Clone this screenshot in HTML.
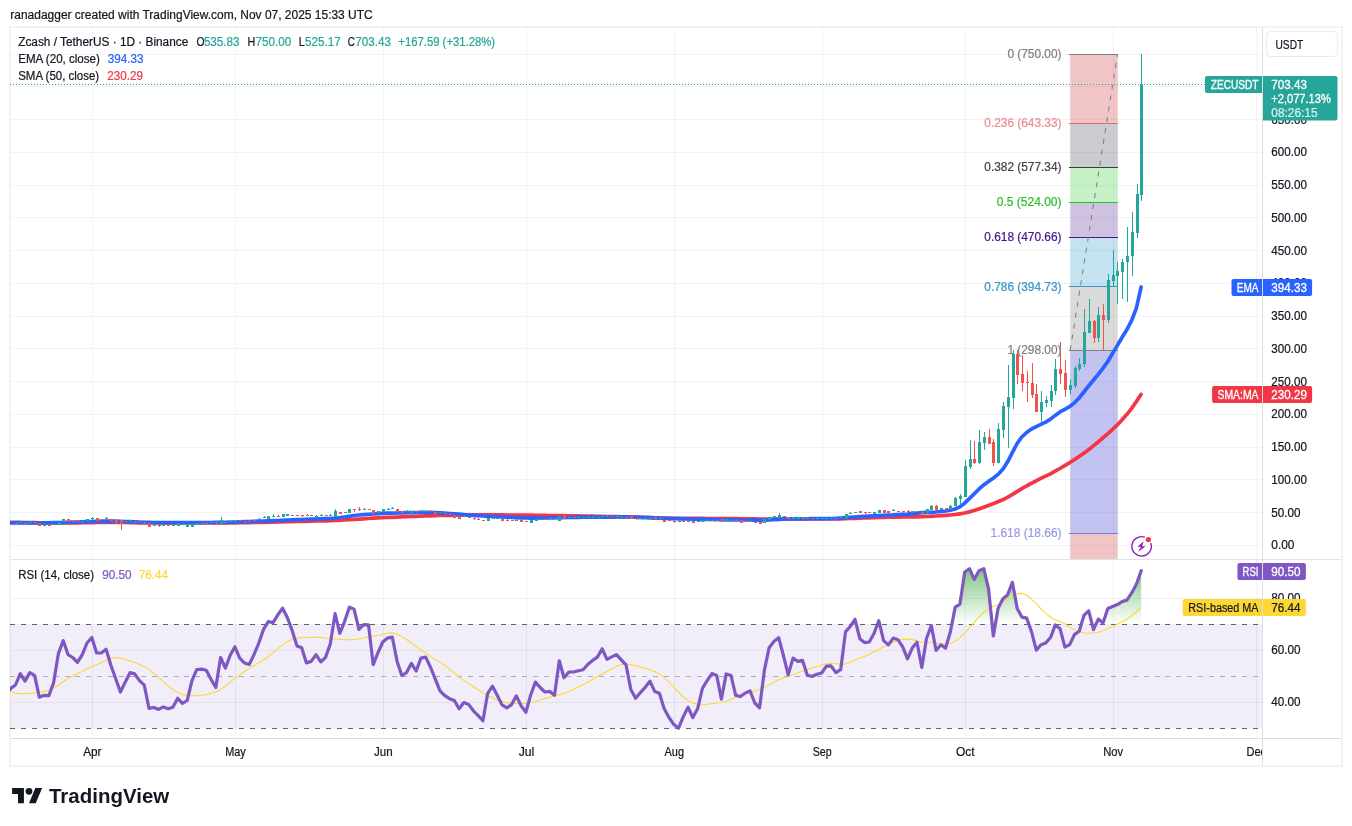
<!DOCTYPE html>
<html><head><meta charset="utf-8"><title>ZECUSDT chart</title>
<style>html,body{margin:0;padding:0;background:#fff;}body{width:1352px;height:826px;position:relative;overflow:hidden;font-family:"Liberation Sans",sans-serif;}</style>
</head><body>
<svg width="1352" height="826" viewBox="0 0 1352 826" style="position:absolute;left:0;top:0;display:block;will-change:transform;opacity:0.999" shape-rendering="auto">
<defs>
<clipPath id="cpMain"><rect x="10" y="28" width="1252" height="531"/></clipPath>
<clipPath id="cpRsi"><rect x="10" y="560" width="1252" height="178"/></clipPath>
<clipPath id="cpTime"><rect x="11" y="739" width="1251" height="26"/></clipPath>
<clipPath id="cpAbove70"><rect x="10" y="560" width="1252" height="64.3"/></clipPath>
<linearGradient id="gOB" gradientUnits="userSpaceOnUse" x1="0" y1="546" x2="0" y2="624"><stop offset="0" stop-color="#4caf50" stop-opacity="1"/><stop offset="1" stop-color="#4caf50" stop-opacity="0"/></linearGradient>
</defs>
<rect x="0" y="0" width="1352" height="826" fill="#ffffff"/>
<g stroke="#f2f3f5" stroke-width="1" shape-rendering="crispEdges">
<line x1="92.5" y1="28" x2="92.5" y2="559"/>
<line x1="92.5" y1="560" x2="92.5" y2="738"/>
<line x1="235.5" y1="28" x2="235.5" y2="559"/>
<line x1="235.5" y1="560" x2="235.5" y2="738"/>
<line x1="383.5" y1="28" x2="383.5" y2="559"/>
<line x1="383.5" y1="560" x2="383.5" y2="738"/>
<line x1="526.5" y1="28" x2="526.5" y2="559"/>
<line x1="526.5" y1="560" x2="526.5" y2="738"/>
<line x1="674.5" y1="28" x2="674.5" y2="559"/>
<line x1="674.5" y1="560" x2="674.5" y2="738"/>
<line x1="822.5" y1="28" x2="822.5" y2="559"/>
<line x1="822.5" y1="560" x2="822.5" y2="738"/>
<line x1="965.5" y1="28" x2="965.5" y2="559"/>
<line x1="965.5" y1="560" x2="965.5" y2="738"/>
<line x1="1113.5" y1="28" x2="1113.5" y2="559"/>
<line x1="1113.5" y1="560" x2="1113.5" y2="738"/>
<line x1="1256.5" y1="28" x2="1256.5" y2="559"/>
<line x1="1256.5" y1="560" x2="1256.5" y2="738"/>
<line x1="11" y1="545.5" x2="1262" y2="545.5"/>
<line x1="11" y1="512.5" x2="1262" y2="512.5"/>
<line x1="11" y1="479.5" x2="1262" y2="479.5"/>
<line x1="11" y1="447.5" x2="1262" y2="447.5"/>
<line x1="11" y1="414.5" x2="1262" y2="414.5"/>
<line x1="11" y1="381.5" x2="1262" y2="381.5"/>
<line x1="11" y1="348.5" x2="1262" y2="348.5"/>
<line x1="11" y1="316.5" x2="1262" y2="316.5"/>
<line x1="11" y1="283.5" x2="1262" y2="283.5"/>
<line x1="11" y1="250.5" x2="1262" y2="250.5"/>
<line x1="11" y1="217.5" x2="1262" y2="217.5"/>
<line x1="11" y1="185.5" x2="1262" y2="185.5"/>
<line x1="11" y1="152.5" x2="1262" y2="152.5"/>
<line x1="11" y1="119.5" x2="1262" y2="119.5"/>
<line x1="11" y1="86.5" x2="1262" y2="86.5"/>
<line x1="11" y1="54.5" x2="1262" y2="54.5"/>
</g>
<g clip-path="url(#cpRsi)">
<rect x="10" y="624" width="1252" height="104.5" fill="#7e57c2" fill-opacity="0.1"/>
<g stroke="#2a2e39" stroke-opacity="0.07" stroke-width="1" shape-rendering="crispEdges">
<line x1="11" y1="702.5" x2="1262" y2="702.5"/>
<line x1="11" y1="650.5" x2="1262" y2="650.5"/>
<line x1="11" y1="598.5" x2="1262" y2="598.5"/>
</g>
<g stroke="#2a2e39" stroke-opacity="0.015" stroke-width="1" shape-rendering="crispEdges">
<line x1="92.5" y1="624" x2="92.5" y2="728"/>
<line x1="235.5" y1="624" x2="235.5" y2="728"/>
<line x1="383.5" y1="624" x2="383.5" y2="728"/>
<line x1="526.5" y1="624" x2="526.5" y2="728"/>
<line x1="674.5" y1="624" x2="674.5" y2="728"/>
<line x1="822.5" y1="624" x2="822.5" y2="728"/>
<line x1="965.5" y1="624" x2="965.5" y2="728"/>
<line x1="1113.5" y1="624" x2="1113.5" y2="728"/>
<line x1="1256.5" y1="624" x2="1256.5" y2="728"/>
</g>
<g stroke="#787b86" stroke-width="1" shape-rendering="crispEdges">
<line x1="10" y1="624.5" x2="1262" y2="624.5" stroke-dasharray="5 5.9" stroke="#5f626d"/>
<line x1="10" y1="676.5" x2="1262" y2="676.5" stroke-dasharray="5 5.9" stroke="#a9acb5"/>
<line x1="10" y1="728.5" x2="1262" y2="728.5" stroke-dasharray="5 5.9" stroke="#5f626d"/>
</g>
<path d="M10.0,689.5 L10.7,688.5 L15.5,685.0 L20.3,673.6 L25.0,681.1 L29.8,672.6 L34.6,675.3 L39.3,697.2 L44.1,695.3 L48.9,695.6 L53.6,682.7 L58.4,653.6 L63.2,640.6 L68.0,654.6 L72.7,657.5 L77.5,662.3 L82.3,654.6 L87.0,643.0 L91.8,637.5 L96.6,653.0 L101.3,653.0 L106.1,649.2 L110.9,665.2 L115.7,678.8 L120.4,692.0 L125.2,682.3 L130.0,672.6 L134.7,673.9 L139.5,680.7 L144.3,685.2 L149.0,708.4 L153.8,707.5 L158.6,709.4 L163.3,706.9 L168.1,708.8 L172.9,707.3 L177.7,698.2 L182.4,703.4 L187.2,700.5 L192.0,680.7 L196.7,669.5 L201.5,669.1 L206.3,670.3 L211.0,679.2 L215.8,687.5 L220.6,657.5 L225.4,668.1 L230.1,655.5 L234.9,646.8 L239.7,658.1 L244.4,662.9 L249.2,664.6 L254.0,654.6 L258.8,643.0 L263.5,629.4 L268.3,621.6 L273.1,622.6 L277.8,614.9 L282.6,608.1 L287.4,617.8 L292.1,630.4 L296.9,645.9 L301.7,647.8 L306.4,662.9 L311.2,661.4 L316.0,654.6 L320.8,661.9 L325.5,657.5 L330.3,643.9 L335.1,613.5 L339.8,633.3 L344.6,621.6 L349.4,607.1 L354.1,609.1 L358.9,629.4 L363.7,624.6 L368.5,624.9 L373.2,664.6 L378.0,652.6 L382.8,642.0 L387.5,638.1 L392.3,637.1 L397.1,661.4 L401.8,675.5 L406.6,672.6 L411.4,663.3 L416.2,671.0 L420.9,658.1 L425.7,657.1 L430.5,667.2 L435.2,678.8 L440.0,690.8 L444.8,695.6 L449.5,698.7 L454.3,700.5 L459.1,708.8 L463.9,702.6 L468.6,704.4 L473.4,710.8 L478.2,715.6 L482.9,720.8 L487.7,693.3 L492.5,686.2 L497.2,695.3 L502.0,704.9 L506.8,707.8 L511.6,704.6 L516.3,695.8 L521.1,705.9 L525.9,712.3 L530.6,695.3 L535.4,682.1 L540.2,687.5 L544.9,692.0 L549.7,691.4 L554.5,695.3 L559.3,660.8 L564.0,677.8 L568.8,672.0 L573.6,672.0 L578.3,670.7 L583.1,669.7 L587.9,664.3 L592.6,660.4 L597.4,657.1 L602.2,648.8 L607.0,659.4 L611.7,656.9 L616.5,654.6 L621.3,659.8 L626.0,664.8 L630.8,689.4 L635.6,698.2 L640.3,692.7 L645.1,687.5 L649.9,681.1 L654.7,691.4 L659.4,693.3 L664.2,708.8 L669.0,717.5 L673.7,724.3 L678.5,728.2 L683.3,716.6 L688.0,707.3 L692.8,717.5 L697.6,708.8 L702.4,688.5 L707.1,680.7 L711.9,673.6 L716.7,675.5 L721.4,699.1 L726.2,673.9 L731.0,675.5 L735.7,695.3 L740.5,696.6 L745.3,692.9 L750.1,691.0 L754.8,703.0 L759.6,707.8 L764.4,670.1 L769.1,647.8 L773.9,641.6 L778.7,637.7 L783.4,655.5 L788.2,674.9 L793.0,658.1 L797.8,661.4 L802.5,660.4 L807.3,675.3 L812.1,676.5 L816.8,674.3 L821.6,673.0 L826.4,666.2 L831.1,665.8 L835.9,672.6 L840.7,669.7 L845.5,631.9 L850.2,626.5 L855.0,619.3 L859.8,638.7 L864.5,642.6 L869.3,642.0 L874.1,633.3 L878.8,620.7 L883.6,640.6 L888.4,644.9 L893.2,638.1 L897.9,639.7 L902.7,646.8 L907.5,658.8 L912.2,648.1 L917.0,642.3 L921.8,667.5 L926.5,638.5 L931.3,625.5 L936.1,650.5 L940.9,644.8 L945.6,648.1 L950.4,631.7 L955.2,607.1 L959.9,604.2 L964.7,572.0 L969.5,568.7 L974.2,579.4 L979.0,570.7 L983.8,568.7 L988.6,589.1 L993.3,635.9 L998.1,608.4 L1002.9,598.7 L1007.6,594.9 L1012.4,582.3 L1017.2,608.4 L1021.9,617.1 L1026.7,618.1 L1031.5,631.7 L1036.3,650.1 L1041.0,644.8 L1045.8,642.9 L1050.6,637.5 L1055.3,624.9 L1060.1,628.8 L1064.9,647.2 L1069.7,644.6 L1074.4,634.6 L1079.2,631.3 L1084.0,615.2 L1088.7,610.8 L1093.5,629.7 L1098.3,619.1 L1103.0,623.0 L1107.8,608.4 L1112.6,606.5 L1117.4,604.6 L1122.1,601.6 L1126.9,600.1 L1131.7,592.9 L1136.4,584.2 L1141.2,570.7 L1141.2,624.3 L10.0,624.3 Z" fill="url(#gOB)" clip-path="url(#cpAbove70)"/>
<path d="M10.0,691.4 L15.2,692.9 L20.0,693.6 L24.8,693.6 L29.5,693.2 L34.3,692.8 L39.1,692.3 L43.8,691.6 L48.6,690.3 L53.4,688.1 L58.1,685.2 L62.9,681.8 L67.7,678.7 L72.5,676.1 L77.2,673.8 L82.0,671.5 L86.8,669.0 L91.5,666.7 L96.3,664.7 L101.1,662.7 L105.8,660.4 L110.6,658.4 L115.4,657.5 L120.2,657.9 L124.9,659.3 L129.7,661.0 L134.5,662.6 L139.2,664.3 L144.0,666.4 L148.8,669.4 L153.5,673.1 L158.3,677.2 L163.1,681.5 L167.9,685.7 L172.6,689.4 L177.4,692.3 L182.2,694.3 L186.9,695.5 L191.7,695.8 L196.5,695.7 L201.2,695.2 L206.0,694.6 L210.8,693.6 L215.6,692.0 L220.3,689.4 L225.1,686.2 L229.9,682.4 L234.6,678.6 L239.4,675.0 L244.2,671.7 L248.9,668.6 L253.7,665.7 L258.5,663.0 L263.3,660.0 L268.0,656.7 L272.8,652.9 L277.6,648.9 L282.3,645.1 L287.1,641.8 L291.9,639.4 L296.6,638.1 L301.4,637.7 L306.2,637.5 L311.0,637.3 L315.7,637.2 L320.5,637.4 L325.3,638.0 L330.0,638.5 L334.8,639.0 L339.6,639.4 L344.3,639.7 L349.1,639.7 L353.9,639.4 L358.7,638.9 L363.4,638.0 L368.2,637.1 L373.0,636.2 L377.7,635.5 L382.5,634.5 L387.3,633.4 L392.0,632.9 L396.8,634.0 L401.6,636.4 L406.4,639.5 L411.1,642.8 L415.9,646.3 L420.7,649.7 L425.4,653.0 L430.2,656.1 L435.0,659.2 L439.7,662.1 L444.5,665.2 L449.3,668.8 L454.1,672.9 L458.8,677.0 L463.6,680.4 L468.4,683.2 L473.1,686.2 L477.9,689.5 L482.7,692.8 L487.4,695.5 L492.2,697.8 L497.0,699.7 L501.8,701.4 L506.5,702.6 L511.3,703.2 L516.1,703.4 L520.8,703.5 L525.6,703.4 L530.4,702.8 L535.1,701.7 L539.9,700.2 L544.7,698.6 L549.5,697.2 L554.2,695.9 L559.0,694.8 L563.8,693.4 L568.5,691.6 L573.3,689.6 L578.1,687.3 L582.8,684.9 L587.6,682.3 L592.4,679.6 L597.2,676.8 L601.9,674.2 L606.7,671.7 L611.5,669.1 L616.2,666.6 L621.0,664.6 L625.8,664.0 L630.5,664.5 L635.3,665.6 L640.1,666.9 L644.9,668.1 L649.6,669.6 L654.4,671.4 L659.2,673.9 L663.9,677.3 L668.7,681.6 L673.5,686.6 L678.2,691.8 L683.0,696.5 L687.8,700.3 L692.6,703.0 L697.3,704.4 L702.1,704.7 L706.9,704.3 L711.6,703.8 L716.4,703.3 L721.2,702.5 L725.9,701.2 L730.7,699.5 L735.5,697.6 L740.3,695.6 L745.0,693.8 L749.8,692.3 L754.6,691.1 L759.3,689.7 L764.1,687.7 L768.9,685.1 L773.6,682.5 L778.4,680.1 L783.2,678.0 L788.0,676.4 L792.7,674.8 L797.5,673.1 L802.3,671.3 L807.0,669.6 L811.8,668.2 L816.6,666.7 L821.3,665.0 L826.1,663.7 L830.9,663.3 L835.7,663.8 L840.4,664.3 L845.2,664.0 L850.0,662.4 L854.7,660.3 L859.5,658.3 L864.3,656.5 L869.0,654.5 L873.8,652.0 L878.6,649.4 L883.4,646.9 L888.1,644.5 L892.9,642.2 L897.7,640.2 L902.4,639.1 L907.2,638.9 L912.0,639.6 L916.7,640.9 L921.5,642.2 L926.3,642.8 L931.1,642.8 L935.8,643.0 L940.6,643.6 L945.4,643.9 L950.1,643.2 L954.9,641.2 L959.7,637.9 L964.4,633.5 L969.2,628.2 L974.0,622.7 L978.8,617.3 L983.5,612.5 L988.3,608.9 L993.1,606.6 L997.8,604.7 L1002.6,602.1 L1007.4,598.9 L1012.1,595.9 L1016.9,593.8 L1021.7,593.4 L1026.5,595.2 L1031.2,598.9 L1036.0,603.6 L1040.8,608.5 L1045.5,613.1 L1050.3,617.0 L1055.1,619.7 L1059.8,621.6 L1064.6,623.8 L1069.4,626.7 L1074.2,629.6 L1078.9,631.8 L1083.7,632.9 L1088.5,633.2 L1093.2,633.0 L1098.0,632.2 L1102.8,630.7 L1107.5,628.7 L1112.3,626.4 L1117.1,624.2 L1121.9,621.9 L1126.6,619.3 L1131.4,616.0 L1136.2,612.0 L1140.9,607.5" fill="none" stroke="#fdd835" stroke-width="1.1" stroke-linejoin="round"/>
<path d="M10.0,689.5 L10.7,688.5 L15.5,685.0 L20.3,673.6 L25.0,681.1 L29.8,672.6 L34.6,675.3 L39.3,697.2 L44.1,695.3 L48.9,695.6 L53.6,682.7 L58.4,653.6 L63.2,640.6 L68.0,654.6 L72.7,657.5 L77.5,662.3 L82.3,654.6 L87.0,643.0 L91.8,637.5 L96.6,653.0 L101.3,653.0 L106.1,649.2 L110.9,665.2 L115.7,678.8 L120.4,692.0 L125.2,682.3 L130.0,672.6 L134.7,673.9 L139.5,680.7 L144.3,685.2 L149.0,708.4 L153.8,707.5 L158.6,709.4 L163.3,706.9 L168.1,708.8 L172.9,707.3 L177.7,698.2 L182.4,703.4 L187.2,700.5 L192.0,680.7 L196.7,669.5 L201.5,669.1 L206.3,670.3 L211.0,679.2 L215.8,687.5 L220.6,657.5 L225.4,668.1 L230.1,655.5 L234.9,646.8 L239.7,658.1 L244.4,662.9 L249.2,664.6 L254.0,654.6 L258.8,643.0 L263.5,629.4 L268.3,621.6 L273.1,622.6 L277.8,614.9 L282.6,608.1 L287.4,617.8 L292.1,630.4 L296.9,645.9 L301.7,647.8 L306.4,662.9 L311.2,661.4 L316.0,654.6 L320.8,661.9 L325.5,657.5 L330.3,643.9 L335.1,613.5 L339.8,633.3 L344.6,621.6 L349.4,607.1 L354.1,609.1 L358.9,629.4 L363.7,624.6 L368.5,624.9 L373.2,664.6 L378.0,652.6 L382.8,642.0 L387.5,638.1 L392.3,637.1 L397.1,661.4 L401.8,675.5 L406.6,672.6 L411.4,663.3 L416.2,671.0 L420.9,658.1 L425.7,657.1 L430.5,667.2 L435.2,678.8 L440.0,690.8 L444.8,695.6 L449.5,698.7 L454.3,700.5 L459.1,708.8 L463.9,702.6 L468.6,704.4 L473.4,710.8 L478.2,715.6 L482.9,720.8 L487.7,693.3 L492.5,686.2 L497.2,695.3 L502.0,704.9 L506.8,707.8 L511.6,704.6 L516.3,695.8 L521.1,705.9 L525.9,712.3 L530.6,695.3 L535.4,682.1 L540.2,687.5 L544.9,692.0 L549.7,691.4 L554.5,695.3 L559.3,660.8 L564.0,677.8 L568.8,672.0 L573.6,672.0 L578.3,670.7 L583.1,669.7 L587.9,664.3 L592.6,660.4 L597.4,657.1 L602.2,648.8 L607.0,659.4 L611.7,656.9 L616.5,654.6 L621.3,659.8 L626.0,664.8 L630.8,689.4 L635.6,698.2 L640.3,692.7 L645.1,687.5 L649.9,681.1 L654.7,691.4 L659.4,693.3 L664.2,708.8 L669.0,717.5 L673.7,724.3 L678.5,728.2 L683.3,716.6 L688.0,707.3 L692.8,717.5 L697.6,708.8 L702.4,688.5 L707.1,680.7 L711.9,673.6 L716.7,675.5 L721.4,699.1 L726.2,673.9 L731.0,675.5 L735.7,695.3 L740.5,696.6 L745.3,692.9 L750.1,691.0 L754.8,703.0 L759.6,707.8 L764.4,670.1 L769.1,647.8 L773.9,641.6 L778.7,637.7 L783.4,655.5 L788.2,674.9 L793.0,658.1 L797.8,661.4 L802.5,660.4 L807.3,675.3 L812.1,676.5 L816.8,674.3 L821.6,673.0 L826.4,666.2 L831.1,665.8 L835.9,672.6 L840.7,669.7 L845.5,631.9 L850.2,626.5 L855.0,619.3 L859.8,638.7 L864.5,642.6 L869.3,642.0 L874.1,633.3 L878.8,620.7 L883.6,640.6 L888.4,644.9 L893.2,638.1 L897.9,639.7 L902.7,646.8 L907.5,658.8 L912.2,648.1 L917.0,642.3 L921.8,667.5 L926.5,638.5 L931.3,625.5 L936.1,650.5 L940.9,644.8 L945.6,648.1 L950.4,631.7 L955.2,607.1 L959.9,604.2 L964.7,572.0 L969.5,568.7 L974.2,579.4 L979.0,570.7 L983.8,568.7 L988.6,589.1 L993.3,635.9 L998.1,608.4 L1002.9,598.7 L1007.6,594.9 L1012.4,582.3 L1017.2,608.4 L1021.9,617.1 L1026.7,618.1 L1031.5,631.7 L1036.3,650.1 L1041.0,644.8 L1045.8,642.9 L1050.6,637.5 L1055.3,624.9 L1060.1,628.8 L1064.9,647.2 L1069.7,644.6 L1074.4,634.6 L1079.2,631.3 L1084.0,615.2 L1088.7,610.8 L1093.5,629.7 L1098.3,619.1 L1103.0,623.0 L1107.8,608.4 L1112.6,606.5 L1117.4,604.6 L1122.1,601.6 L1126.9,600.1 L1131.7,592.9 L1136.4,584.2 L1141.2,570.7" fill="none" stroke="#7e57c2" stroke-width="3.2" stroke-linejoin="round" stroke-linecap="round"/>
</g>
<g clip-path="url(#cpMain)">
<rect x="1070.2" y="54.1" width="47.6" height="69.2" fill="#cc2828" fill-opacity="0.27"/>
<rect x="1070.2" y="123.3" width="47.6" height="43.9" fill="#363a45" fill-opacity="0.26"/>
<rect x="1070.2" y="167.2" width="47.6" height="34.9" fill="#28cc28" fill-opacity="0.27"/>
<rect x="1070.2" y="202.2" width="47.6" height="34.9" fill="#4a148c" fill-opacity="0.26"/>
<rect x="1070.2" y="237.1" width="47.6" height="49.7" fill="#2895cc" fill-opacity="0.27"/>
<rect x="1070.2" y="286.9" width="47.6" height="63.4" fill="#808080" fill-opacity="0.29"/>
<rect x="1070.2" y="350.2" width="47.6" height="183.0" fill="#2828cc" fill-opacity="0.28"/>
<rect x="1070.2" y="533.2" width="47.6" height="26.8" fill="#cc2828" fill-opacity="0.27"/>
<line x1="1069" y1="54.5" x2="1118" y2="54.5" stroke="#808080" stroke-width="1" shape-rendering="crispEdges"/>
<line x1="1069" y1="123.5" x2="1118" y2="123.5" stroke="#d96c6c" stroke-width="1" shape-rendering="crispEdges"/>
<line x1="1069" y1="167.5" x2="1118" y2="167.5" stroke="#3c3c46" stroke-width="1" shape-rendering="crispEdges"/>
<line x1="1069" y1="202.5" x2="1118" y2="202.5" stroke="#2fc02f" stroke-width="1" shape-rendering="crispEdges"/>
<line x1="1069" y1="237.5" x2="1118" y2="237.5" stroke="#4a148c" stroke-width="1" shape-rendering="crispEdges"/>
<line x1="1069" y1="286.5" x2="1118" y2="286.5" stroke="#3a94c9" stroke-width="1" shape-rendering="crispEdges"/>
<line x1="1069" y1="350.5" x2="1118" y2="350.5" stroke="#808080" stroke-width="1" shape-rendering="crispEdges"/>
<line x1="1069" y1="533.5" x2="1118" y2="533.5" stroke="#7a7ad8" stroke-width="1" shape-rendering="crispEdges"/>
<line x1="1070.2" y1="350.2" x2="1117.6" y2="54.1" stroke="#808080" stroke-width="1.05" stroke-dasharray="5 6"/>
<line x1="10" y1="84.5" x2="1262" y2="84.5" stroke="#26a69a" stroke-width="1" stroke-dasharray="1 2" shape-rendering="crispEdges"/>
<path d="M10.0,522.3 L15.3,522.3 L20.1,522.4 L24.8,522.5 L29.6,522.6 L34.4,522.7 L39.1,522.8 L43.9,522.8 L48.7,522.9 L53.4,522.9 L58.2,523.0 L63.0,523.0 L67.8,522.9 L72.5,522.8 L77.3,522.8 L82.1,522.7 L86.8,522.6 L91.6,522.6 L96.4,522.5 L101.1,522.5 L105.9,522.5 L110.7,522.5 L115.5,522.5 L120.2,522.5 L125.0,522.5 L129.8,522.6 L134.5,522.7 L139.3,522.8 L144.1,522.9 L148.8,522.9 L153.6,523.0 L158.4,523.0 L163.2,523.0 L167.9,523.0 L172.7,523.0 L177.5,523.0 L182.2,523.0 L187.0,523.0 L191.8,523.0 L196.5,523.0 L201.3,523.0 L206.1,523.0 L210.9,523.0 L215.6,523.0 L220.4,523.0 L225.2,523.0 L229.9,522.9 L234.7,522.8 L239.5,522.7 L244.2,522.7 L249.0,522.6 L253.8,522.5 L258.6,522.4 L263.3,522.3 L268.1,522.2 L272.9,522.1 L277.6,522.0 L282.4,521.9 L287.2,521.7 L291.9,521.6 L296.7,521.5 L301.5,521.4 L306.3,521.3 L311.0,521.1 L315.8,521.0 L320.6,520.9 L325.3,520.8 L330.1,520.7 L334.9,520.5 L339.6,520.3 L344.4,520.0 L349.2,519.7 L354.0,519.4 L358.7,519.1 L363.5,518.8 L368.3,518.5 L373.0,518.2 L377.8,517.9 L382.6,517.7 L387.3,517.4 L392.1,517.3 L396.9,517.1 L401.7,516.9 L406.4,516.7 L411.2,516.5 L416.0,516.3 L420.7,516.1 L425.5,515.9 L430.3,515.8 L435.0,515.6 L439.8,515.5 L444.6,515.4 L449.4,515.3 L454.1,515.2 L458.9,515.1 L463.7,515.1 L468.4,515.0 L473.2,514.9 L478.0,514.8 L482.7,514.8 L487.5,514.8 L492.3,514.8 L497.1,514.9 L501.8,514.9 L506.6,515.0 L511.4,515.0 L516.1,515.1 L520.9,515.1 L525.7,515.2 L530.4,515.2 L535.2,515.3 L540.0,515.3 L544.8,515.4 L549.5,515.5 L554.3,515.6 L559.1,515.6 L563.8,515.7 L568.6,515.8 L573.4,515.8 L578.1,515.9 L582.9,516.0 L587.7,516.1 L592.5,516.2 L597.2,516.3 L602.0,516.4 L606.8,516.5 L611.5,516.6 L616.3,516.7 L621.1,516.8 L625.8,516.9 L630.6,517.0 L635.4,517.1 L640.2,517.3 L644.9,517.4 L649.7,517.6 L654.5,517.8 L659.2,517.9 L664.0,518.1 L668.8,518.2 L673.5,518.3 L678.3,518.3 L683.1,518.3 L687.9,518.4 L692.6,518.4 L697.4,518.4 L702.2,518.4 L706.9,518.5 L711.7,518.5 L716.5,518.5 L721.2,518.6 L726.0,518.6 L730.8,518.7 L735.6,518.7 L740.3,518.8 L745.1,518.8 L749.9,518.9 L754.6,518.9 L759.4,519.0 L764.2,519.0 L768.9,519.0 L773.7,519.0 L778.5,519.0 L783.3,519.0 L788.0,519.0 L792.8,519.0 L797.6,519.0 L802.3,519.0 L807.1,519.0 L811.9,519.0 L816.6,519.0 L821.4,519.0 L826.2,519.0 L831.0,519.0 L835.7,518.9 L840.5,518.8 L845.3,518.7 L850.0,518.5 L854.8,518.3 L859.6,518.2 L864.3,518.0 L869.1,517.8 L873.9,517.7 L878.7,517.5 L883.4,517.3 L888.2,517.2 L893.0,517.2 L897.7,517.1 L902.5,517.0 L907.3,517.0 L912.0,516.9 L916.8,516.9 L921.6,516.7 L926.4,516.5 L931.1,516.3 L935.9,516.0 L940.7,515.7 L945.4,515.4 L950.2,515.0 L955.0,514.5 L959.7,513.8 L964.5,513.0 L969.3,511.9 L974.1,510.5 L978.8,508.9 L983.6,507.2 L988.4,505.4 L993.1,503.7 L997.9,501.8 L1002.7,499.8 L1007.4,497.4 L1012.2,494.6 L1017.0,491.6 L1021.8,488.7 L1026.5,486.0 L1031.3,483.4 L1036.1,480.8 L1040.8,478.4 L1045.6,476.1 L1050.4,473.8 L1055.1,471.2 L1059.9,468.5 L1064.7,465.7 L1069.5,462.8 L1074.2,459.7 L1079.0,456.6 L1083.8,453.3 L1088.5,449.7 L1093.3,445.9 L1098.1,442.0 L1102.8,438.0 L1107.6,433.8 L1112.4,429.5 L1117.2,424.9 L1121.9,419.9 L1126.7,414.6 L1131.5,408.6 L1136.2,401.8 L1141.0,394.4" fill="none" stroke="#f23645" stroke-width="3.7" stroke-linejoin="round" stroke-linecap="round"/>
<path d="M10.0,522.8 L15.4,522.8 L20.1,522.8 L24.9,522.9 L29.7,522.9 L34.5,523.0 L39.2,523.0 L44.0,522.9 L48.8,522.8 L53.5,522.7 L58.3,522.6 L63.1,522.5 L67.8,522.3 L72.6,522.2 L77.4,522.0 L82.2,521.9 L86.9,521.7 L91.7,521.5 L96.5,521.4 L101.2,521.3 L106.0,521.1 L110.8,521.1 L115.5,521.2 L120.3,521.4 L125.1,521.5 L129.9,521.7 L134.6,521.9 L139.4,522.1 L144.2,522.3 L148.9,522.4 L153.7,522.5 L158.5,522.6 L163.2,522.6 L168.0,522.6 L172.8,522.6 L177.6,522.7 L182.3,522.7 L187.1,522.7 L191.9,522.7 L196.6,522.7 L201.4,522.6 L206.2,522.5 L210.9,522.5 L215.7,522.4 L220.5,522.3 L225.3,522.3 L230.0,522.1 L234.8,522.0 L239.6,521.9 L244.3,521.7 L249.1,521.6 L253.9,521.4 L258.6,521.2 L263.4,521.0 L268.2,520.8 L273.0,520.6 L277.7,520.5 L282.5,520.3 L287.3,520.1 L292.0,519.9 L296.8,519.7 L301.6,519.5 L306.3,519.3 L311.1,519.2 L315.9,519.0 L320.7,518.8 L325.4,518.6 L330.2,518.5 L335.0,518.2 L339.7,517.7 L344.5,517.0 L349.3,516.2 L354.0,515.5 L358.8,515.0 L363.6,514.6 L368.4,514.3 L373.1,514.0 L377.9,513.6 L382.7,513.4 L387.4,513.2 L392.2,513.1 L397.0,513.0 L401.7,512.8 L406.5,512.7 L411.3,512.6 L416.1,512.5 L420.8,512.4 L425.6,512.3 L430.4,512.3 L435.1,512.5 L439.9,512.8 L444.7,513.2 L449.4,513.5 L454.2,513.9 L459.0,514.2 L463.8,514.6 L468.5,515.0 L473.3,515.4 L478.1,515.7 L482.8,516.0 L487.6,516.3 L492.4,516.5 L497.1,516.7 L501.9,516.9 L506.7,517.1 L511.5,517.3 L516.2,517.6 L521.0,517.8 L525.8,518.0 L530.5,518.1 L535.3,518.1 L540.1,518.1 L544.8,518.0 L549.6,517.9 L554.4,517.8 L559.2,517.7 L563.9,517.6 L568.7,517.5 L573.5,517.4 L578.2,517.3 L583.0,517.2 L587.8,517.2 L592.5,517.2 L597.3,517.1 L602.1,517.1 L606.9,517.1 L611.6,517.1 L616.4,517.0 L621.2,517.0 L625.9,517.0 L630.7,517.0 L635.5,517.1 L640.2,517.3 L645.0,517.5 L649.8,517.7 L654.6,517.9 L659.3,518.2 L664.1,518.3 L668.9,518.5 L673.6,518.6 L678.4,518.7 L683.2,518.9 L687.9,519.0 L692.7,519.1 L697.5,519.2 L702.3,519.3 L707.0,519.4 L711.8,519.5 L716.6,519.6 L721.3,519.6 L726.1,519.7 L730.9,519.8 L735.6,519.8 L740.4,519.9 L745.2,520.0 L750.0,520.0 L754.7,520.1 L759.5,520.2 L764.3,520.2 L769.0,520.0 L773.8,519.7 L778.6,519.4 L783.3,519.2 L788.1,519.0 L792.9,518.9 L797.7,518.9 L802.4,518.8 L807.2,518.8 L812.0,518.7 L816.7,518.7 L821.5,518.6 L826.3,518.6 L831.0,518.5 L835.8,518.4 L840.6,518.1 L845.4,517.7 L850.1,517.4 L854.9,517.0 L859.7,516.6 L864.4,516.3 L869.2,516.1 L874.0,515.8 L878.7,515.6 L883.5,515.4 L888.3,515.1 L893.1,514.9 L897.8,514.6 L902.6,514.4 L907.4,514.1 L912.1,513.7 L916.9,513.1 L921.7,512.6 L926.4,512.4 L931.2,512.3 L936.0,512.0 L940.8,511.5 L945.5,511.0 L950.3,510.2 L955.1,509.0 L959.8,506.9 L964.6,503.2 L969.4,498.6 L974.1,493.9 L978.9,489.2 L983.7,484.9 L988.5,481.4 L993.2,478.2 L998.0,474.4 L1002.8,469.3 L1007.5,462.1 L1012.3,452.7 L1017.1,443.5 L1021.8,437.0 L1026.6,432.5 L1031.4,429.1 L1036.2,426.6 L1040.9,424.4 L1045.7,422.1 L1050.5,419.1 L1055.2,415.4 L1060.0,411.9 L1064.8,409.3 L1069.5,406.7 L1074.3,403.1 L1079.1,398.0 L1083.9,392.0 L1088.6,386.0 L1093.4,380.3 L1098.2,374.4 L1102.9,368.3 L1107.7,361.7 L1112.5,353.4 L1117.3,345.6 L1122.0,337.5 L1126.8,329.8 L1131.6,320.5 L1136.3,308.4 L1141.1,287.1" fill="none" stroke="#2962ff" stroke-width="3.7" stroke-linejoin="round" stroke-linecap="round"/>
<rect x="11" y="524" width="1" height="1" fill="#ef5350"/>
<rect x="10" y="524" width="3" height="1" fill="#ef5350"/>
<rect x="16" y="522" width="1" height="2" fill="#26a69a"/>
<rect x="15" y="523" width="3" height="1" fill="#26a69a"/>
<rect x="20" y="521" width="1" height="2" fill="#26a69a"/>
<rect x="19" y="522" width="3" height="1" fill="#26a69a"/>
<rect x="25" y="523" width="1" height="1" fill="#ef5350"/>
<rect x="24" y="523" width="3" height="1" fill="#ef5350"/>
<rect x="30" y="521" width="1" height="2" fill="#26a69a"/>
<rect x="29" y="522" width="3" height="1" fill="#26a69a"/>
<rect x="35" y="522" width="1" height="2" fill="#ef5350"/>
<rect x="34" y="522" width="3" height="1" fill="#ef5350"/>
<rect x="39" y="523" width="1" height="3" fill="#ef5350"/>
<rect x="38" y="523" width="3" height="3" fill="#ef5350"/>
<rect x="44" y="524" width="1" height="2" fill="#26a69a"/>
<rect x="43" y="525" width="3" height="1" fill="#26a69a"/>
<rect x="49" y="524" width="1" height="2" fill="#ef5350"/>
<rect x="48" y="525" width="3" height="1" fill="#ef5350"/>
<rect x="54" y="524" width="1" height="1" fill="#26a69a"/>
<rect x="53" y="524" width="3" height="1" fill="#26a69a"/>
<rect x="59" y="522" width="1" height="3" fill="#26a69a"/>
<rect x="58" y="522" width="3" height="3" fill="#26a69a"/>
<rect x="63" y="519" width="1" height="3" fill="#26a69a"/>
<rect x="62" y="519" width="3" height="3" fill="#26a69a"/>
<rect x="68" y="519" width="1" height="3" fill="#ef5350"/>
<rect x="67" y="519" width="3" height="3" fill="#ef5350"/>
<rect x="73" y="521" width="1" height="2" fill="#ef5350"/>
<rect x="72" y="521" width="3" height="1" fill="#ef5350"/>
<rect x="78" y="520" width="1" height="2" fill="#ef5350"/>
<rect x="77" y="521" width="3" height="1" fill="#ef5350"/>
<rect x="82" y="521" width="1" height="1" fill="#26a69a"/>
<rect x="81" y="521" width="3" height="1" fill="#26a69a"/>
<rect x="87" y="519" width="1" height="2" fill="#26a69a"/>
<rect x="86" y="519" width="3" height="2" fill="#26a69a"/>
<rect x="92" y="517" width="1" height="3" fill="#26a69a"/>
<rect x="91" y="518" width="3" height="1" fill="#26a69a"/>
<rect x="97" y="518" width="1" height="3" fill="#ef5350"/>
<rect x="96" y="518" width="3" height="3" fill="#ef5350"/>
<rect x="101" y="519" width="1" height="2" fill="#ef5350"/>
<rect x="100" y="519" width="3" height="1" fill="#ef5350"/>
<rect x="106" y="517" width="1" height="2" fill="#26a69a"/>
<rect x="105" y="518" width="3" height="1" fill="#26a69a"/>
<rect x="111" y="519" width="1" height="2" fill="#ef5350"/>
<rect x="110" y="519" width="3" height="2" fill="#ef5350"/>
<rect x="116" y="520" width="1" height="3" fill="#ef5350"/>
<rect x="115" y="520" width="3" height="3" fill="#ef5350"/>
<rect x="121" y="520" width="1" height="10" fill="#ef5350"/>
<rect x="120" y="520" width="3" height="4" fill="#ef5350"/>
<rect x="125" y="521" width="1" height="1" fill="#26a69a"/>
<rect x="124" y="521" width="3" height="1" fill="#26a69a"/>
<rect x="130" y="520" width="1" height="2" fill="#26a69a"/>
<rect x="129" y="521" width="3" height="1" fill="#26a69a"/>
<rect x="135" y="521" width="1" height="2" fill="#ef5350"/>
<rect x="134" y="522" width="3" height="1" fill="#ef5350"/>
<rect x="140" y="521" width="1" height="1" fill="#ef5350"/>
<rect x="139" y="521" width="3" height="1" fill="#ef5350"/>
<rect x="144" y="522" width="1" height="2" fill="#ef5350"/>
<rect x="143" y="523" width="3" height="1" fill="#ef5350"/>
<rect x="149" y="523" width="1" height="4" fill="#ef5350"/>
<rect x="148" y="523" width="3" height="4" fill="#ef5350"/>
<rect x="154" y="523" width="1" height="3" fill="#26a69a"/>
<rect x="153" y="525" width="3" height="1" fill="#26a69a"/>
<rect x="159" y="525" width="1" height="2" fill="#ef5350"/>
<rect x="158" y="525" width="3" height="1" fill="#ef5350"/>
<rect x="163" y="524" width="1" height="2" fill="#26a69a"/>
<rect x="162" y="525" width="3" height="1" fill="#26a69a"/>
<rect x="168" y="525" width="1" height="1" fill="#ef5350"/>
<rect x="167" y="525" width="3" height="1" fill="#ef5350"/>
<rect x="173" y="524" width="1" height="2" fill="#26a69a"/>
<rect x="172" y="525" width="3" height="1" fill="#26a69a"/>
<rect x="178" y="523" width="1" height="3" fill="#26a69a"/>
<rect x="177" y="524" width="3" height="2" fill="#26a69a"/>
<rect x="183" y="524" width="1" height="1" fill="#26a69a"/>
<rect x="182" y="524" width="3" height="1" fill="#26a69a"/>
<rect x="187" y="524" width="1" height="3" fill="#26a69a"/>
<rect x="186" y="524" width="3" height="3" fill="#26a69a"/>
<rect x="192" y="524" width="1" height="3" fill="#26a69a"/>
<rect x="191" y="524" width="3" height="3" fill="#26a69a"/>
<rect x="197" y="523" width="1" height="1" fill="#26a69a"/>
<rect x="196" y="523" width="3" height="1" fill="#26a69a"/>
<rect x="202" y="522" width="1" height="2" fill="#26a69a"/>
<rect x="201" y="523" width="3" height="1" fill="#26a69a"/>
<rect x="206" y="523" width="1" height="2" fill="#ef5350"/>
<rect x="205" y="523" width="3" height="1" fill="#ef5350"/>
<rect x="211" y="522" width="1" height="1" fill="#26a69a"/>
<rect x="210" y="522" width="3" height="1" fill="#26a69a"/>
<rect x="216" y="522" width="1" height="2" fill="#ef5350"/>
<rect x="215" y="522" width="3" height="1" fill="#ef5350"/>
<rect x="221" y="517" width="1" height="7" fill="#26a69a"/>
<rect x="220" y="520" width="3" height="4" fill="#26a69a"/>
<rect x="225" y="522" width="1" height="1" fill="#ef5350"/>
<rect x="224" y="522" width="3" height="1" fill="#ef5350"/>
<rect x="230" y="520" width="1" height="2" fill="#26a69a"/>
<rect x="229" y="521" width="3" height="1" fill="#26a69a"/>
<rect x="235" y="520" width="1" height="2" fill="#26a69a"/>
<rect x="234" y="520" width="3" height="2" fill="#26a69a"/>
<rect x="240" y="520" width="1" height="1" fill="#ef5350"/>
<rect x="239" y="520" width="3" height="1" fill="#ef5350"/>
<rect x="245" y="521" width="1" height="2" fill="#ef5350"/>
<rect x="244" y="521" width="3" height="1" fill="#ef5350"/>
<rect x="249" y="520" width="1" height="2" fill="#ef5350"/>
<rect x="248" y="521" width="3" height="1" fill="#ef5350"/>
<rect x="254" y="520" width="1" height="1" fill="#ef5350"/>
<rect x="253" y="520" width="3" height="1" fill="#ef5350"/>
<rect x="259" y="518" width="1" height="2" fill="#26a69a"/>
<rect x="258" y="519" width="3" height="1" fill="#26a69a"/>
<rect x="264" y="516" width="1" height="2" fill="#26a69a"/>
<rect x="263" y="517" width="3" height="1" fill="#26a69a"/>
<rect x="268" y="516" width="1" height="3" fill="#26a69a"/>
<rect x="267" y="516" width="3" height="3" fill="#26a69a"/>
<rect x="273" y="514" width="1" height="3" fill="#26a69a"/>
<rect x="272" y="516" width="3" height="1" fill="#26a69a"/>
<rect x="278" y="515" width="1" height="2" fill="#ef5350"/>
<rect x="277" y="516" width="3" height="1" fill="#ef5350"/>
<rect x="283" y="514" width="1" height="3" fill="#26a69a"/>
<rect x="282" y="514" width="3" height="3" fill="#26a69a"/>
<rect x="287" y="514" width="1" height="2" fill="#26a69a"/>
<rect x="286" y="514" width="3" height="2" fill="#26a69a"/>
<rect x="292" y="515" width="1" height="1" fill="#ef5350"/>
<rect x="291" y="515" width="3" height="1" fill="#ef5350"/>
<rect x="297" y="515" width="1" height="1" fill="#ef5350"/>
<rect x="296" y="515" width="3" height="1" fill="#ef5350"/>
<rect x="302" y="515" width="1" height="2" fill="#ef5350"/>
<rect x="301" y="515" width="3" height="1" fill="#ef5350"/>
<rect x="307" y="514" width="1" height="2" fill="#ef5350"/>
<rect x="306" y="515" width="3" height="1" fill="#ef5350"/>
<rect x="311" y="515" width="1" height="1" fill="#ef5350"/>
<rect x="310" y="515" width="3" height="1" fill="#ef5350"/>
<rect x="316" y="515" width="1" height="2" fill="#26a69a"/>
<rect x="315" y="516" width="3" height="1" fill="#26a69a"/>
<rect x="321" y="514" width="1" height="2" fill="#26a69a"/>
<rect x="320" y="515" width="3" height="1" fill="#26a69a"/>
<rect x="326" y="515" width="1" height="1" fill="#ef5350"/>
<rect x="325" y="515" width="3" height="1" fill="#ef5350"/>
<rect x="330" y="514" width="1" height="2" fill="#26a69a"/>
<rect x="329" y="515" width="3" height="1" fill="#26a69a"/>
<rect x="335" y="509" width="1" height="8" fill="#26a69a"/>
<rect x="334" y="511" width="3" height="6" fill="#26a69a"/>
<rect x="340" y="512" width="1" height="2" fill="#ef5350"/>
<rect x="339" y="512" width="3" height="2" fill="#ef5350"/>
<rect x="345" y="512" width="1" height="1" fill="#26a69a"/>
<rect x="344" y="512" width="3" height="1" fill="#26a69a"/>
<rect x="349" y="509" width="1" height="4" fill="#26a69a"/>
<rect x="348" y="509" width="3" height="4" fill="#26a69a"/>
<rect x="354" y="509" width="1" height="3" fill="#ef5350"/>
<rect x="353" y="509" width="3" height="1" fill="#ef5350"/>
<rect x="359" y="507" width="1" height="4" fill="#ef5350"/>
<rect x="358" y="509" width="3" height="1" fill="#ef5350"/>
<rect x="364" y="508" width="1" height="2" fill="#26a69a"/>
<rect x="363" y="509" width="3" height="1" fill="#26a69a"/>
<rect x="369" y="509" width="1" height="1" fill="#ef5350"/>
<rect x="368" y="509" width="3" height="1" fill="#ef5350"/>
<rect x="373" y="510" width="1" height="4" fill="#ef5350"/>
<rect x="372" y="510" width="3" height="4" fill="#ef5350"/>
<rect x="378" y="511" width="1" height="2" fill="#26a69a"/>
<rect x="377" y="511" width="3" height="2" fill="#26a69a"/>
<rect x="383" y="509" width="1" height="3" fill="#26a69a"/>
<rect x="382" y="509" width="3" height="3" fill="#26a69a"/>
<rect x="388" y="508" width="1" height="2" fill="#26a69a"/>
<rect x="387" y="509" width="3" height="1" fill="#26a69a"/>
<rect x="392" y="507" width="1" height="2" fill="#26a69a"/>
<rect x="391" y="508" width="3" height="1" fill="#26a69a"/>
<rect x="397" y="509" width="1" height="3" fill="#ef5350"/>
<rect x="396" y="509" width="3" height="3" fill="#ef5350"/>
<rect x="402" y="511" width="1" height="2" fill="#ef5350"/>
<rect x="401" y="511" width="3" height="2" fill="#ef5350"/>
<rect x="407" y="510" width="1" height="2" fill="#26a69a"/>
<rect x="406" y="511" width="3" height="1" fill="#26a69a"/>
<rect x="411" y="511" width="1" height="2" fill="#26a69a"/>
<rect x="410" y="511" width="3" height="2" fill="#26a69a"/>
<rect x="416" y="511" width="1" height="2" fill="#ef5350"/>
<rect x="415" y="511" width="3" height="1" fill="#ef5350"/>
<rect x="421" y="510" width="1" height="2" fill="#26a69a"/>
<rect x="420" y="511" width="3" height="1" fill="#26a69a"/>
<rect x="426" y="511" width="1" height="1" fill="#26a69a"/>
<rect x="425" y="511" width="3" height="1" fill="#26a69a"/>
<rect x="431" y="510" width="1" height="2" fill="#ef5350"/>
<rect x="430" y="511" width="3" height="1" fill="#ef5350"/>
<rect x="435" y="512" width="1" height="2" fill="#ef5350"/>
<rect x="434" y="512" width="3" height="2" fill="#ef5350"/>
<rect x="440" y="512" width="1" height="1" fill="#26a69a"/>
<rect x="439" y="512" width="3" height="1" fill="#26a69a"/>
<rect x="445" y="513" width="1" height="2" fill="#ef5350"/>
<rect x="444" y="513" width="3" height="1" fill="#ef5350"/>
<rect x="450" y="513" width="1" height="2" fill="#ef5350"/>
<rect x="449" y="514" width="3" height="1" fill="#ef5350"/>
<rect x="454" y="515" width="1" height="3" fill="#ef5350"/>
<rect x="453" y="515" width="3" height="3" fill="#ef5350"/>
<rect x="459" y="516" width="1" height="3" fill="#ef5350"/>
<rect x="458" y="516" width="3" height="3" fill="#ef5350"/>
<rect x="464" y="515" width="1" height="2" fill="#26a69a"/>
<rect x="463" y="516" width="3" height="1" fill="#26a69a"/>
<rect x="469" y="517" width="1" height="1" fill="#ef5350"/>
<rect x="468" y="517" width="3" height="1" fill="#ef5350"/>
<rect x="474" y="518" width="1" height="2" fill="#ef5350"/>
<rect x="473" y="518" width="3" height="1" fill="#ef5350"/>
<rect x="478" y="518" width="1" height="2" fill="#ef5350"/>
<rect x="477" y="519" width="3" height="1" fill="#ef5350"/>
<rect x="483" y="520" width="1" height="1" fill="#ef5350"/>
<rect x="482" y="520" width="3" height="1" fill="#ef5350"/>
<rect x="488" y="518" width="1" height="3" fill="#26a69a"/>
<rect x="487" y="518" width="3" height="3" fill="#26a69a"/>
<rect x="493" y="517" width="1" height="2" fill="#26a69a"/>
<rect x="492" y="518" width="3" height="1" fill="#26a69a"/>
<rect x="497" y="518" width="1" height="1" fill="#26a69a"/>
<rect x="496" y="518" width="3" height="1" fill="#26a69a"/>
<rect x="502" y="519" width="1" height="2" fill="#ef5350"/>
<rect x="501" y="519" width="3" height="2" fill="#ef5350"/>
<rect x="507" y="519" width="1" height="2" fill="#ef5350"/>
<rect x="506" y="520" width="3" height="1" fill="#ef5350"/>
<rect x="512" y="520" width="1" height="1" fill="#ef5350"/>
<rect x="511" y="520" width="3" height="1" fill="#ef5350"/>
<rect x="516" y="519" width="1" height="2" fill="#26a69a"/>
<rect x="515" y="520" width="3" height="1" fill="#26a69a"/>
<rect x="521" y="520" width="1" height="2" fill="#ef5350"/>
<rect x="520" y="520" width="3" height="2" fill="#ef5350"/>
<rect x="526" y="521" width="1" height="1" fill="#ef5350"/>
<rect x="525" y="521" width="3" height="1" fill="#ef5350"/>
<rect x="531" y="520" width="1" height="3" fill="#26a69a"/>
<rect x="530" y="520" width="3" height="3" fill="#26a69a"/>
<rect x="536" y="519" width="1" height="2" fill="#26a69a"/>
<rect x="535" y="519" width="3" height="2" fill="#26a69a"/>
<rect x="540" y="519" width="1" height="1" fill="#26a69a"/>
<rect x="539" y="519" width="3" height="1" fill="#26a69a"/>
<rect x="545" y="518" width="1" height="2" fill="#ef5350"/>
<rect x="544" y="519" width="3" height="1" fill="#ef5350"/>
<rect x="550" y="517" width="1" height="2" fill="#26a69a"/>
<rect x="549" y="518" width="3" height="1" fill="#26a69a"/>
<rect x="555" y="518" width="1" height="1" fill="#26a69a"/>
<rect x="554" y="518" width="3" height="1" fill="#26a69a"/>
<rect x="559" y="516" width="1" height="5" fill="#26a69a"/>
<rect x="558" y="516" width="3" height="5" fill="#26a69a"/>
<rect x="564" y="515" width="1" height="4" fill="#ef5350"/>
<rect x="563" y="515" width="3" height="4" fill="#ef5350"/>
<rect x="569" y="517" width="1" height="1" fill="#26a69a"/>
<rect x="568" y="517" width="3" height="1" fill="#26a69a"/>
<rect x="574" y="516" width="1" height="2" fill="#ef5350"/>
<rect x="573" y="517" width="3" height="1" fill="#ef5350"/>
<rect x="578" y="516" width="1" height="2" fill="#26a69a"/>
<rect x="577" y="517" width="3" height="1" fill="#26a69a"/>
<rect x="583" y="517" width="1" height="1" fill="#26a69a"/>
<rect x="582" y="517" width="3" height="1" fill="#26a69a"/>
<rect x="588" y="516" width="1" height="2" fill="#26a69a"/>
<rect x="587" y="517" width="3" height="1" fill="#26a69a"/>
<rect x="593" y="516" width="1" height="2" fill="#26a69a"/>
<rect x="592" y="517" width="3" height="1" fill="#26a69a"/>
<rect x="598" y="517" width="1" height="1" fill="#26a69a"/>
<rect x="597" y="517" width="3" height="1" fill="#26a69a"/>
<rect x="602" y="515" width="1" height="2" fill="#26a69a"/>
<rect x="601" y="516" width="3" height="1" fill="#26a69a"/>
<rect x="607" y="515" width="1" height="2" fill="#26a69a"/>
<rect x="606" y="516" width="3" height="1" fill="#26a69a"/>
<rect x="612" y="516" width="1" height="1" fill="#ef5350"/>
<rect x="611" y="516" width="3" height="1" fill="#ef5350"/>
<rect x="617" y="515" width="1" height="2" fill="#26a69a"/>
<rect x="616" y="516" width="3" height="1" fill="#26a69a"/>
<rect x="621" y="516" width="1" height="2" fill="#26a69a"/>
<rect x="620" y="517" width="3" height="1" fill="#26a69a"/>
<rect x="626" y="517" width="1" height="1" fill="#ef5350"/>
<rect x="625" y="517" width="3" height="1" fill="#ef5350"/>
<rect x="631" y="516" width="1" height="3" fill="#ef5350"/>
<rect x="630" y="516" width="3" height="3" fill="#ef5350"/>
<rect x="636" y="518" width="1" height="2" fill="#ef5350"/>
<rect x="635" y="518" width="3" height="1" fill="#ef5350"/>
<rect x="640" y="518" width="1" height="1" fill="#26a69a"/>
<rect x="639" y="518" width="3" height="1" fill="#26a69a"/>
<rect x="645" y="517" width="1" height="2" fill="#26a69a"/>
<rect x="644" y="518" width="3" height="1" fill="#26a69a"/>
<rect x="650" y="517" width="1" height="2" fill="#26a69a"/>
<rect x="649" y="518" width="3" height="1" fill="#26a69a"/>
<rect x="655" y="517" width="1" height="2" fill="#ef5350"/>
<rect x="654" y="517" width="3" height="2" fill="#ef5350"/>
<rect x="660" y="517" width="1" height="2" fill="#ef5350"/>
<rect x="659" y="518" width="3" height="1" fill="#ef5350"/>
<rect x="664" y="520" width="1" height="2" fill="#ef5350"/>
<rect x="663" y="520" width="3" height="2" fill="#ef5350"/>
<rect x="669" y="520" width="1" height="1" fill="#ef5350"/>
<rect x="668" y="520" width="3" height="1" fill="#ef5350"/>
<rect x="674" y="521" width="1" height="2" fill="#ef5350"/>
<rect x="673" y="521" width="3" height="1" fill="#ef5350"/>
<rect x="679" y="520" width="1" height="2" fill="#26a69a"/>
<rect x="678" y="521" width="3" height="1" fill="#26a69a"/>
<rect x="683" y="521" width="1" height="1" fill="#ef5350"/>
<rect x="682" y="521" width="3" height="1" fill="#ef5350"/>
<rect x="688" y="520" width="1" height="2" fill="#26a69a"/>
<rect x="687" y="521" width="3" height="1" fill="#26a69a"/>
<rect x="693" y="521" width="1" height="2" fill="#ef5350"/>
<rect x="692" y="521" width="3" height="2" fill="#ef5350"/>
<rect x="698" y="521" width="1" height="1" fill="#26a69a"/>
<rect x="697" y="521" width="3" height="1" fill="#26a69a"/>
<rect x="702" y="520" width="1" height="2" fill="#26a69a"/>
<rect x="701" y="520" width="3" height="2" fill="#26a69a"/>
<rect x="707" y="519" width="1" height="2" fill="#26a69a"/>
<rect x="706" y="520" width="3" height="1" fill="#26a69a"/>
<rect x="712" y="520" width="1" height="1" fill="#26a69a"/>
<rect x="711" y="520" width="3" height="1" fill="#26a69a"/>
<rect x="717" y="519" width="1" height="2" fill="#ef5350"/>
<rect x="716" y="520" width="3" height="1" fill="#ef5350"/>
<rect x="722" y="519" width="1" height="3" fill="#ef5350"/>
<rect x="721" y="519" width="3" height="3" fill="#ef5350"/>
<rect x="726" y="519" width="1" height="3" fill="#26a69a"/>
<rect x="725" y="519" width="3" height="3" fill="#26a69a"/>
<rect x="731" y="519" width="1" height="2" fill="#26a69a"/>
<rect x="730" y="520" width="3" height="1" fill="#26a69a"/>
<rect x="736" y="519" width="1" height="2" fill="#ef5350"/>
<rect x="735" y="520" width="3" height="1" fill="#ef5350"/>
<rect x="741" y="520" width="1" height="3" fill="#ef5350"/>
<rect x="740" y="520" width="3" height="3" fill="#ef5350"/>
<rect x="745" y="520" width="1" height="2" fill="#ef5350"/>
<rect x="744" y="521" width="3" height="1" fill="#ef5350"/>
<rect x="750" y="520" width="1" height="2" fill="#26a69a"/>
<rect x="749" y="521" width="3" height="1" fill="#26a69a"/>
<rect x="755" y="522" width="1" height="1" fill="#ef5350"/>
<rect x="754" y="522" width="3" height="1" fill="#ef5350"/>
<rect x="760" y="522" width="1" height="2" fill="#ef5350"/>
<rect x="759" y="522" width="3" height="2" fill="#ef5350"/>
<rect x="764" y="519" width="1" height="4" fill="#26a69a"/>
<rect x="763" y="519" width="3" height="4" fill="#26a69a"/>
<rect x="769" y="517" width="1" height="3" fill="#26a69a"/>
<rect x="768" y="517" width="3" height="3" fill="#26a69a"/>
<rect x="774" y="516" width="1" height="2" fill="#26a69a"/>
<rect x="773" y="516" width="3" height="2" fill="#26a69a"/>
<rect x="779" y="513" width="1" height="5" fill="#26a69a"/>
<rect x="778" y="515" width="3" height="2" fill="#26a69a"/>
<rect x="784" y="516" width="1" height="1" fill="#ef5350"/>
<rect x="783" y="516" width="3" height="1" fill="#ef5350"/>
<rect x="788" y="517" width="1" height="2" fill="#ef5350"/>
<rect x="787" y="517" width="3" height="2" fill="#ef5350"/>
<rect x="793" y="517" width="1" height="2" fill="#26a69a"/>
<rect x="792" y="517" width="3" height="2" fill="#26a69a"/>
<rect x="798" y="517" width="1" height="2" fill="#26a69a"/>
<rect x="797" y="517" width="3" height="2" fill="#26a69a"/>
<rect x="803" y="517" width="1" height="2" fill="#ef5350"/>
<rect x="802" y="517" width="3" height="2" fill="#ef5350"/>
<rect x="807" y="517" width="1" height="2" fill="#26a69a"/>
<rect x="806" y="518" width="3" height="1" fill="#26a69a"/>
<rect x="812" y="518" width="1" height="1" fill="#ef5350"/>
<rect x="811" y="518" width="3" height="1" fill="#ef5350"/>
<rect x="817" y="517" width="1" height="2" fill="#26a69a"/>
<rect x="816" y="518" width="3" height="1" fill="#26a69a"/>
<rect x="822" y="517" width="1" height="2" fill="#26a69a"/>
<rect x="821" y="518" width="3" height="1" fill="#26a69a"/>
<rect x="826" y="518" width="1" height="1" fill="#26a69a"/>
<rect x="825" y="518" width="3" height="1" fill="#26a69a"/>
<rect x="831" y="517" width="1" height="2" fill="#26a69a"/>
<rect x="830" y="518" width="3" height="1" fill="#26a69a"/>
<rect x="836" y="518" width="1" height="1" fill="#ef5350"/>
<rect x="835" y="518" width="3" height="1" fill="#ef5350"/>
<rect x="841" y="517" width="1" height="1" fill="#26a69a"/>
<rect x="840" y="517" width="3" height="1" fill="#26a69a"/>
<rect x="846" y="514" width="1" height="5" fill="#26a69a"/>
<rect x="845" y="514" width="3" height="5" fill="#26a69a"/>
<rect x="850" y="512" width="1" height="2" fill="#26a69a"/>
<rect x="849" y="513" width="3" height="1" fill="#26a69a"/>
<rect x="855" y="512" width="1" height="1" fill="#26a69a"/>
<rect x="854" y="512" width="3" height="1" fill="#26a69a"/>
<rect x="860" y="511" width="1" height="2" fill="#ef5350"/>
<rect x="859" y="511" width="3" height="2" fill="#ef5350"/>
<rect x="865" y="512" width="1" height="2" fill="#ef5350"/>
<rect x="864" y="512" width="3" height="1" fill="#ef5350"/>
<rect x="869" y="512" width="1" height="1" fill="#ef5350"/>
<rect x="868" y="512" width="3" height="1" fill="#ef5350"/>
<rect x="874" y="512" width="1" height="2" fill="#26a69a"/>
<rect x="873" y="512" width="3" height="2" fill="#26a69a"/>
<rect x="879" y="510" width="1" height="3" fill="#26a69a"/>
<rect x="878" y="510" width="3" height="3" fill="#26a69a"/>
<rect x="884" y="510" width="1" height="3" fill="#ef5350"/>
<rect x="883" y="510" width="3" height="3" fill="#ef5350"/>
<rect x="888" y="511" width="1" height="2" fill="#ef5350"/>
<rect x="887" y="511" width="3" height="2" fill="#ef5350"/>
<rect x="893" y="509" width="1" height="2" fill="#26a69a"/>
<rect x="892" y="510" width="3" height="1" fill="#26a69a"/>
<rect x="898" y="511" width="1" height="1" fill="#ef5350"/>
<rect x="897" y="511" width="3" height="1" fill="#ef5350"/>
<rect x="903" y="511" width="1" height="2" fill="#ef5350"/>
<rect x="902" y="511" width="3" height="1" fill="#ef5350"/>
<rect x="908" y="510" width="1" height="2" fill="#ef5350"/>
<rect x="907" y="511" width="3" height="1" fill="#ef5350"/>
<rect x="912" y="511" width="1" height="2" fill="#26a69a"/>
<rect x="911" y="511" width="3" height="2" fill="#26a69a"/>
<rect x="917" y="511" width="1" height="1" fill="#26a69a"/>
<rect x="916" y="511" width="3" height="1" fill="#26a69a"/>
<rect x="922" y="511" width="1" height="3" fill="#ef5350"/>
<rect x="921" y="512" width="3" height="2" fill="#ef5350"/>
<rect x="927" y="509" width="1" height="5" fill="#26a69a"/>
<rect x="926" y="509" width="3" height="4" fill="#26a69a"/>
<rect x="931" y="505" width="1" height="5" fill="#26a69a"/>
<rect x="930" y="506" width="3" height="4" fill="#26a69a"/>
<rect x="936" y="505" width="1" height="5" fill="#ef5350"/>
<rect x="935" y="506" width="3" height="4" fill="#ef5350"/>
<rect x="941" y="508" width="1" height="2" fill="#26a69a"/>
<rect x="940" y="508" width="3" height="2" fill="#26a69a"/>
<rect x="946" y="508" width="1" height="3" fill="#ef5350"/>
<rect x="945" y="508" width="3" height="1" fill="#ef5350"/>
<rect x="950" y="505" width="1" height="5" fill="#26a69a"/>
<rect x="949" y="506" width="3" height="3" fill="#26a69a"/>
<rect x="955" y="497" width="1" height="9" fill="#26a69a"/>
<rect x="954" y="498" width="3" height="8" fill="#26a69a"/>
<rect x="960" y="494" width="1" height="10" fill="#26a69a"/>
<rect x="959" y="496" width="3" height="3" fill="#26a69a"/>
<rect x="965" y="460" width="1" height="37" fill="#26a69a"/>
<rect x="964" y="466" width="3" height="31" fill="#26a69a"/>
<rect x="970" y="440" width="1" height="29" fill="#26a69a"/>
<rect x="969" y="459" width="3" height="8" fill="#26a69a"/>
<rect x="974" y="441" width="1" height="23" fill="#ef5350"/>
<rect x="973" y="459" width="3" height="4" fill="#ef5350"/>
<rect x="979" y="430" width="1" height="34" fill="#26a69a"/>
<rect x="978" y="442" width="3" height="21" fill="#26a69a"/>
<rect x="984" y="432" width="1" height="18" fill="#26a69a"/>
<rect x="983" y="437" width="3" height="6" fill="#26a69a"/>
<rect x="989" y="429" width="1" height="15" fill="#ef5350"/>
<rect x="988" y="437" width="3" height="7" fill="#ef5350"/>
<rect x="993" y="439" width="1" height="27" fill="#ef5350"/>
<rect x="992" y="442" width="3" height="21" fill="#ef5350"/>
<rect x="998" y="423" width="1" height="40" fill="#26a69a"/>
<rect x="997" y="429" width="3" height="34" fill="#26a69a"/>
<rect x="1003" y="402" width="1" height="36" fill="#26a69a"/>
<rect x="1002" y="406" width="3" height="24" fill="#26a69a"/>
<rect x="1008" y="365" width="1" height="83" fill="#26a69a"/>
<rect x="1007" y="397" width="3" height="10" fill="#26a69a"/>
<rect x="1013" y="350" width="1" height="59" fill="#26a69a"/>
<rect x="1012" y="354" width="3" height="44" fill="#26a69a"/>
<rect x="1017" y="350" width="1" height="34" fill="#ef5350"/>
<rect x="1016" y="354" width="3" height="21" fill="#ef5350"/>
<rect x="1022" y="355" width="1" height="36" fill="#ef5350"/>
<rect x="1021" y="374" width="3" height="9" fill="#ef5350"/>
<rect x="1027" y="371" width="1" height="31" fill="#ef5350"/>
<rect x="1026" y="382" width="3" height="1" fill="#ef5350"/>
<rect x="1032" y="363" width="1" height="35" fill="#ef5350"/>
<rect x="1031" y="383" width="3" height="12" fill="#ef5350"/>
<rect x="1036" y="384" width="1" height="28" fill="#ef5350"/>
<rect x="1035" y="394" width="3" height="18" fill="#ef5350"/>
<rect x="1041" y="391" width="1" height="31" fill="#26a69a"/>
<rect x="1040" y="402" width="3" height="10" fill="#26a69a"/>
<rect x="1046" y="396" width="1" height="11" fill="#26a69a"/>
<rect x="1045" y="400" width="3" height="3" fill="#26a69a"/>
<rect x="1051" y="385" width="1" height="22" fill="#26a69a"/>
<rect x="1050" y="391" width="3" height="10" fill="#26a69a"/>
<rect x="1055" y="359" width="1" height="36" fill="#26a69a"/>
<rect x="1054" y="369" width="3" height="22" fill="#26a69a"/>
<rect x="1060" y="342" width="1" height="42" fill="#ef5350"/>
<rect x="1059" y="369" width="3" height="5" fill="#ef5350"/>
<rect x="1065" y="360" width="1" height="37" fill="#ef5350"/>
<rect x="1064" y="373" width="3" height="17" fill="#ef5350"/>
<rect x="1070" y="379" width="1" height="15" fill="#26a69a"/>
<rect x="1069" y="385" width="3" height="5" fill="#26a69a"/>
<rect x="1075" y="366" width="1" height="22" fill="#26a69a"/>
<rect x="1074" y="368" width="3" height="18" fill="#26a69a"/>
<rect x="1079" y="358" width="1" height="13" fill="#26a69a"/>
<rect x="1078" y="364" width="3" height="5" fill="#26a69a"/>
<rect x="1084" y="309" width="1" height="58" fill="#26a69a"/>
<rect x="1083" y="332" width="3" height="32" fill="#26a69a"/>
<rect x="1089" y="299" width="1" height="34" fill="#26a69a"/>
<rect x="1088" y="321" width="3" height="12" fill="#26a69a"/>
<rect x="1094" y="320" width="1" height="23" fill="#ef5350"/>
<rect x="1093" y="321" width="3" height="17" fill="#ef5350"/>
<rect x="1098" y="307" width="1" height="35" fill="#26a69a"/>
<rect x="1097" y="315" width="3" height="23" fill="#26a69a"/>
<rect x="1103" y="304" width="1" height="46" fill="#ef5350"/>
<rect x="1102" y="315" width="3" height="5" fill="#ef5350"/>
<rect x="1108" y="274" width="1" height="49" fill="#26a69a"/>
<rect x="1107" y="280" width="3" height="40" fill="#26a69a"/>
<rect x="1113" y="250" width="1" height="36" fill="#26a69a"/>
<rect x="1112" y="275" width="3" height="6" fill="#26a69a"/>
<rect x="1117" y="262" width="1" height="42" fill="#26a69a"/>
<rect x="1116" y="271" width="3" height="5" fill="#26a69a"/>
<rect x="1122" y="259" width="1" height="40" fill="#26a69a"/>
<rect x="1121" y="262" width="3" height="10" fill="#26a69a"/>
<rect x="1127" y="227" width="1" height="75" fill="#26a69a"/>
<rect x="1126" y="256" width="3" height="6" fill="#26a69a"/>
<rect x="1132" y="212" width="1" height="64" fill="#26a69a"/>
<rect x="1131" y="232" width="3" height="24" fill="#26a69a"/>
<rect x="1137" y="184" width="1" height="54" fill="#26a69a"/>
<rect x="1136" y="194" width="3" height="39" fill="#26a69a"/>
<rect x="1141" y="54" width="1" height="147" fill="#26a69a"/>
<rect x="1140" y="84" width="3" height="111" fill="#26a69a"/>
</g>
<g clip-path="url(#cpMain)">
<text x="1061.5" y="57.7" font-family="Liberation Sans, sans-serif" font-size="12" fill="#808080" text-anchor="end" font-weight="normal" textLength="54.1" lengthAdjust="spacingAndGlyphs" stroke="#808080" stroke-width="0.22">0 (750.00)</text>
<text x="1061.5" y="126.9" font-family="Liberation Sans, sans-serif" font-size="12" fill="#ea8f8f" text-anchor="end" font-weight="normal" textLength="77.2" lengthAdjust="spacingAndGlyphs" stroke="#ea8f8f" stroke-width="0.22">0.236 (643.33)</text>
<text x="1061.5" y="170.8" font-family="Liberation Sans, sans-serif" font-size="12" fill="#42424c" text-anchor="end" font-weight="normal" textLength="77.2" lengthAdjust="spacingAndGlyphs" stroke="#42424c" stroke-width="0.22">0.382 (577.34)</text>
<text x="1061.5" y="205.8" font-family="Liberation Sans, sans-serif" font-size="12" fill="#2fc02f" text-anchor="end" font-weight="normal" textLength="64.7" lengthAdjust="spacingAndGlyphs" stroke="#2fc02f" stroke-width="0.22">0.5 (524.00)</text>
<text x="1061.5" y="240.7" font-family="Liberation Sans, sans-serif" font-size="12" fill="#4a148c" text-anchor="end" font-weight="normal" textLength="77.2" lengthAdjust="spacingAndGlyphs" stroke="#4a148c" stroke-width="0.22">0.618 (470.66)</text>
<text x="1061.5" y="290.5" font-family="Liberation Sans, sans-serif" font-size="12" fill="#3a94c9" text-anchor="end" font-weight="normal" textLength="77.2" lengthAdjust="spacingAndGlyphs" stroke="#3a94c9" stroke-width="0.22">0.786 (394.73)</text>
<text x="1061.5" y="353.8" font-family="Liberation Sans, sans-serif" font-size="12" fill="#808080" text-anchor="end" font-weight="normal" textLength="54.1" lengthAdjust="spacingAndGlyphs" stroke="#808080" stroke-width="0.22">1 (298.00)</text>
<text x="1061.5" y="536.8" font-family="Liberation Sans, sans-serif" font-size="12" fill="#9a9ae0" text-anchor="end" font-weight="normal" textLength="71.0" lengthAdjust="spacingAndGlyphs" stroke="#9a9ae0" stroke-width="0.22">1.618 (18.66)</text>
</g>
<g transform="translate(1141.6,546.4)"><circle r="10.6" fill="#ffffff"/><path d="M9.25,-2.92 A9.7,9.7 0 1 1 2.72,-9.31" fill="none" stroke="#8e1fb0" stroke-width="1.4" stroke-linecap="round"/><path d="M2.2,-5.1 L-4.2,0.3 L-0.6,0.3 L-3.4,5.3 L4.1,-0.2 L0.4,-0.2 Z" fill="#8e1fb0"/><circle cx="6.8" cy="-6.9" r="2.6" fill="#f23645"/></g>
<g shape-rendering="crispEdges">
<line x1="11" y1="559.5" x2="1341" y2="559.5" stroke="#e0e3eb"/>
<line x1="11" y1="738.5" x2="1341" y2="738.5" stroke="#dcdde1"/>
</g>
<text x="1271.3" y="549.4" font-family="Liberation Sans, sans-serif" font-size="12" fill="#131722" text-anchor="start" font-weight="normal" textLength="23.1" lengthAdjust="spacingAndGlyphs" stroke="#131722" stroke-width="0.22">0.00</text>
<text x="1271.3" y="516.6" font-family="Liberation Sans, sans-serif" font-size="12" fill="#131722" text-anchor="start" font-weight="normal" textLength="29.3" lengthAdjust="spacingAndGlyphs" stroke="#131722" stroke-width="0.22">50.00</text>
<text x="1271.3" y="483.9" font-family="Liberation Sans, sans-serif" font-size="12" fill="#131722" text-anchor="start" font-weight="normal" textLength="35.6" lengthAdjust="spacingAndGlyphs" stroke="#131722" stroke-width="0.22">100.00</text>
<text x="1271.3" y="451.1" font-family="Liberation Sans, sans-serif" font-size="12" fill="#131722" text-anchor="start" font-weight="normal" textLength="35.6" lengthAdjust="spacingAndGlyphs" stroke="#131722" stroke-width="0.22">150.00</text>
<text x="1271.3" y="418.4" font-family="Liberation Sans, sans-serif" font-size="12" fill="#131722" text-anchor="start" font-weight="normal" textLength="35.6" lengthAdjust="spacingAndGlyphs" stroke="#131722" stroke-width="0.22">200.00</text>
<text x="1271.3" y="385.6" font-family="Liberation Sans, sans-serif" font-size="12" fill="#131722" text-anchor="start" font-weight="normal" textLength="35.6" lengthAdjust="spacingAndGlyphs" stroke="#131722" stroke-width="0.22">250.00</text>
<text x="1271.3" y="352.9" font-family="Liberation Sans, sans-serif" font-size="12" fill="#131722" text-anchor="start" font-weight="normal" textLength="35.6" lengthAdjust="spacingAndGlyphs" stroke="#131722" stroke-width="0.22">300.00</text>
<text x="1271.3" y="320.1" font-family="Liberation Sans, sans-serif" font-size="12" fill="#131722" text-anchor="start" font-weight="normal" textLength="35.6" lengthAdjust="spacingAndGlyphs" stroke="#131722" stroke-width="0.22">350.00</text>
<text x="1271.3" y="287.4" font-family="Liberation Sans, sans-serif" font-size="12" fill="#131722" text-anchor="start" font-weight="normal" textLength="35.6" lengthAdjust="spacingAndGlyphs" stroke="#131722" stroke-width="0.22">400.00</text>
<text x="1271.3" y="254.6" font-family="Liberation Sans, sans-serif" font-size="12" fill="#131722" text-anchor="start" font-weight="normal" textLength="35.6" lengthAdjust="spacingAndGlyphs" stroke="#131722" stroke-width="0.22">450.00</text>
<text x="1271.3" y="221.9" font-family="Liberation Sans, sans-serif" font-size="12" fill="#131722" text-anchor="start" font-weight="normal" textLength="35.6" lengthAdjust="spacingAndGlyphs" stroke="#131722" stroke-width="0.22">500.00</text>
<text x="1271.3" y="189.1" font-family="Liberation Sans, sans-serif" font-size="12" fill="#131722" text-anchor="start" font-weight="normal" textLength="35.6" lengthAdjust="spacingAndGlyphs" stroke="#131722" stroke-width="0.22">550.00</text>
<text x="1271.3" y="156.4" font-family="Liberation Sans, sans-serif" font-size="12" fill="#131722" text-anchor="start" font-weight="normal" textLength="35.6" lengthAdjust="spacingAndGlyphs" stroke="#131722" stroke-width="0.22">600.00</text>
<text x="1271.3" y="123.6" font-family="Liberation Sans, sans-serif" font-size="12" fill="#131722" text-anchor="start" font-weight="normal" textLength="35.6" lengthAdjust="spacingAndGlyphs" stroke="#131722" stroke-width="0.22">650.00</text>
<text x="1271.3" y="706.0" font-family="Liberation Sans, sans-serif" font-size="12" fill="#131722" text-anchor="start" font-weight="normal" textLength="29.3" lengthAdjust="spacingAndGlyphs" stroke="#131722" stroke-width="0.22">40.00</text>
<text x="1271.3" y="654.0" font-family="Liberation Sans, sans-serif" font-size="12" fill="#131722" text-anchor="start" font-weight="normal" textLength="29.3" lengthAdjust="spacingAndGlyphs" stroke="#131722" stroke-width="0.22">60.00</text>
<text x="1271.3" y="602.0" font-family="Liberation Sans, sans-serif" font-size="12" fill="#131722" text-anchor="start" font-weight="normal" textLength="29.3" lengthAdjust="spacingAndGlyphs" stroke="#131722" stroke-width="0.22">80.00</text>
<g clip-path="url(#cpTime)">
<text x="92.4" y="756" font-family="Liberation Sans, sans-serif" font-size="12" fill="#131722" text-anchor="middle" font-weight="normal" textLength="18.3" lengthAdjust="spacingAndGlyphs" stroke="#131722" stroke-width="0.22">Apr</text>
<text x="235.5" y="756" font-family="Liberation Sans, sans-serif" font-size="12" fill="#131722" text-anchor="middle" font-weight="normal" textLength="20.6" lengthAdjust="spacingAndGlyphs" stroke="#131722" stroke-width="0.22">May</text>
<text x="383.4" y="756" font-family="Liberation Sans, sans-serif" font-size="12" fill="#131722" text-anchor="middle" font-weight="normal" textLength="18.7" lengthAdjust="spacingAndGlyphs" stroke="#131722" stroke-width="0.22">Jun</text>
<text x="526.5" y="756" font-family="Liberation Sans, sans-serif" font-size="12" fill="#131722" text-anchor="middle" font-weight="normal" textLength="15.7" lengthAdjust="spacingAndGlyphs" stroke="#131722" stroke-width="0.22">Jul</text>
<text x="674.3" y="756" font-family="Liberation Sans, sans-serif" font-size="12" fill="#131722" text-anchor="middle" font-weight="normal" textLength="19.5" lengthAdjust="spacingAndGlyphs" stroke="#131722" stroke-width="0.22">Aug</text>
<text x="822.2" y="756" font-family="Liberation Sans, sans-serif" font-size="12" fill="#131722" text-anchor="middle" font-weight="normal" textLength="18.8" lengthAdjust="spacingAndGlyphs" stroke="#131722" stroke-width="0.22">Sep</text>
<text x="965.3" y="756" font-family="Liberation Sans, sans-serif" font-size="12" fill="#131722" text-anchor="middle" font-weight="normal" textLength="18.6" lengthAdjust="spacingAndGlyphs" stroke="#131722" stroke-width="0.22">Oct</text>
<text x="1113.2" y="756" font-family="Liberation Sans, sans-serif" font-size="12" fill="#131722" text-anchor="middle" font-weight="normal" textLength="19.8" lengthAdjust="spacingAndGlyphs" stroke="#131722" stroke-width="0.22">Nov</text>
<text x="1256.3" y="756" font-family="Liberation Sans, sans-serif" font-size="12" fill="#131722" text-anchor="middle" font-weight="normal" textLength="19.7" lengthAdjust="spacingAndGlyphs" stroke="#131722" stroke-width="0.22">Dec</text>
</g>
<rect x="1266.5" y="31.5" width="71" height="25" rx="4" ry="4" fill="#ffffff" stroke="#e9eaee" stroke-width="1"/>
<text x="1275.5" y="48.6" font-family="Liberation Sans, sans-serif" font-size="12" fill="#131722" text-anchor="start" font-weight="normal" textLength="27.7" lengthAdjust="spacingAndGlyphs" stroke="#131722" stroke-width="0.22">USDT</text>
<path d="M1207,76 H1263 V93 H1207 a2,2 0 0 1 -2,-2 V78 a2,2 0 0 1 2,-2 Z" fill="#26a69a"/>
<path d="M1263,76 H1335.5 a2,2 0 0 1 2,2 V118.5 a2,2 0 0 1 -2,2 H1263 Z" fill="#26a69a"/>
<text x="1258.5" y="88.6" font-family="Liberation Sans, sans-serif" font-size="12" fill="#ffffff" text-anchor="end" font-weight="normal" textLength="47.7" lengthAdjust="spacingAndGlyphs" stroke="#ffffff" stroke-width="0.3">ZECUSDT</text>
<text x="1271.3" y="88.6" font-family="Liberation Sans, sans-serif" font-size="12" fill="#ffffff" text-anchor="start" font-weight="normal" textLength="35.6" lengthAdjust="spacingAndGlyphs" stroke="#ffffff" stroke-width="0.3">703.43</text>
<text x="1271.3" y="102.6" font-family="Liberation Sans, sans-serif" font-size="12" fill="#ffffff" text-anchor="start" font-weight="normal" textLength="59.5" lengthAdjust="spacingAndGlyphs" stroke="#ffffff" stroke-width="0.3">+2,077.13%</text>
<text x="1271.3" y="116.6" font-family="Liberation Sans, sans-serif" font-size="12" fill="#ffffff" text-anchor="start" font-weight="normal" textLength="46.2" lengthAdjust="spacingAndGlyphs" fill-opacity="0.72" stroke="#ffffff" stroke-width="0.22">08:26:15</text>
<path d="M1233.5,279 H1263 V296 H1233.5 a2,2 0 0 1 -2,-2 V281 a2,2 0 0 1 2,-2 Z" fill="#2962ff"/>
<path d="M1263,279 H1310.1 a2,2 0 0 1 2,2 V294 a2,2 0 0 1 -2,2 H1263 Z" fill="#2962ff"/>
<text x="1258.5" y="291.7" font-family="Liberation Sans, sans-serif" font-size="12" fill="#ffffff" text-anchor="end" font-weight="normal" textLength="21.8" lengthAdjust="spacingAndGlyphs" stroke="#ffffff" stroke-width="0.3">EMA</text>
<text x="1271.3" y="291.7" font-family="Liberation Sans, sans-serif" font-size="12" fill="#ffffff" text-anchor="start" font-weight="normal" textLength="35.6" lengthAdjust="spacingAndGlyphs" stroke="#ffffff" stroke-width="0.3">394.33</text>
<path d="M1214.1,386 H1263 V403 H1214.1 a2,2 0 0 1 -2,-2 V388 a2,2 0 0 1 2,-2 Z" fill="#f23645"/>
<path d="M1263,386 H1310.1 a2,2 0 0 1 2,2 V401 a2,2 0 0 1 -2,2 H1263 Z" fill="#f23645"/>
<text x="1258.5" y="398.7" font-family="Liberation Sans, sans-serif" font-size="12" fill="#ffffff" text-anchor="end" font-weight="normal" textLength="41.0" lengthAdjust="spacingAndGlyphs" stroke="#ffffff" stroke-width="0.3">SMA:MA</text>
<text x="1271.3" y="398.7" font-family="Liberation Sans, sans-serif" font-size="12" fill="#ffffff" text-anchor="start" font-weight="normal" textLength="35.6" lengthAdjust="spacingAndGlyphs" stroke="#ffffff" stroke-width="0.3">230.29</text>
<path d="M1239.4,563 H1263 V580 H1239.4 a2,2 0 0 1 -2,-2 V565 a2,2 0 0 1 2,-2 Z" fill="#7e57c2"/>
<path d="M1263,563 H1303.9 a2,2 0 0 1 2,2 V578 a2,2 0 0 1 -2,2 H1263 Z" fill="#7e57c2"/>
<text x="1258.5" y="575.7" font-family="Liberation Sans, sans-serif" font-size="12" fill="#ffffff" text-anchor="end" font-weight="normal" textLength="16.0" lengthAdjust="spacingAndGlyphs" stroke="#ffffff" stroke-width="0.3">RSI</text>
<text x="1271.3" y="575.7" font-family="Liberation Sans, sans-serif" font-size="12" fill="#ffffff" text-anchor="start" font-weight="normal" textLength="29.3" lengthAdjust="spacingAndGlyphs" stroke="#ffffff" stroke-width="0.3">90.50</text>
<path d="M1184.7,599 H1263 V616 H1184.7 a2,2 0 0 1 -2,-2 V601 a2,2 0 0 1 2,-2 Z" fill="#fdd835"/>
<path d="M1263,599 H1303.9 a2,2 0 0 1 2,2 V614 a2,2 0 0 1 -2,2 H1263 Z" fill="#fdd835"/>
<text x="1258.5" y="611.7" font-family="Liberation Sans, sans-serif" font-size="12" fill="#131722" text-anchor="end" font-weight="normal" textLength="70.2" lengthAdjust="spacingAndGlyphs" stroke="#131722" stroke-width="0.22">RSI-based MA</text>
<text x="1271.3" y="611.7" font-family="Liberation Sans, sans-serif" font-size="12" fill="#131722" text-anchor="start" font-weight="normal" textLength="29.3" lengthAdjust="spacingAndGlyphs" stroke="#131722" stroke-width="0.22">76.44</text>
<line x1="1262.5" y1="28" x2="1262.5" y2="765" stroke="#dcdde1" shape-rendering="crispEdges"/>
<text x="10.3" y="19" font-family="Liberation Sans, sans-serif" font-size="12" fill="#131722" text-anchor="start" font-weight="normal" textLength="362.4" lengthAdjust="spacingAndGlyphs" stroke="#131722" stroke-width="0.22">ranadagger created with TradingView.com, Nov 07, 2025 15:33 UTC</text>
<text x="18.2" y="45.7" font-family="Liberation Sans, sans-serif" font-size="12" fill="#131722" text-anchor="start" font-weight="normal" textLength="170.1" lengthAdjust="spacingAndGlyphs" stroke="#131722" stroke-width="0.22">Zcash / TetherUS · 1D · Binance</text>
<text x="196.6" y="45.7" font-family="Liberation Sans, sans-serif" font-size="12" fill="#131722" text-anchor="start" font-weight="normal" textLength="8.0" lengthAdjust="spacingAndGlyphs" stroke="#131722" stroke-width="0.22">O</text>
<text x="203.9" y="45.7" font-family="Liberation Sans, sans-serif" font-size="12" fill="#26a69a" text-anchor="start" font-weight="normal" textLength="35.6" lengthAdjust="spacingAndGlyphs" stroke="#26a69a" stroke-width="0.22">535.83</text>
<text x="247.4" y="45.7" font-family="Liberation Sans, sans-serif" font-size="12" fill="#131722" text-anchor="start" font-weight="normal" textLength="7.8" lengthAdjust="spacingAndGlyphs" stroke="#131722" stroke-width="0.22">H</text>
<text x="255.5" y="45.7" font-family="Liberation Sans, sans-serif" font-size="12" fill="#26a69a" text-anchor="start" font-weight="normal" textLength="35.6" lengthAdjust="spacingAndGlyphs" stroke="#26a69a" stroke-width="0.22">750.00</text>
<text x="298.7" y="45.7" font-family="Liberation Sans, sans-serif" font-size="12" fill="#131722" text-anchor="start" font-weight="normal" textLength="6.0" lengthAdjust="spacingAndGlyphs" stroke="#131722" stroke-width="0.22">L</text>
<text x="305" y="45.7" font-family="Liberation Sans, sans-serif" font-size="12" fill="#26a69a" text-anchor="start" font-weight="normal" textLength="35.6" lengthAdjust="spacingAndGlyphs" stroke="#26a69a" stroke-width="0.22">525.17</text>
<text x="347.8" y="45.7" font-family="Liberation Sans, sans-serif" font-size="12" fill="#131722" text-anchor="start" font-weight="normal" textLength="7.1" lengthAdjust="spacingAndGlyphs" stroke="#131722" stroke-width="0.22">C</text>
<text x="355.3" y="45.7" font-family="Liberation Sans, sans-serif" font-size="12" fill="#26a69a" text-anchor="start" font-weight="normal" textLength="35.6" lengthAdjust="spacingAndGlyphs" stroke="#26a69a" stroke-width="0.22">703.43</text>
<text x="398.3" y="45.7" font-family="Liberation Sans, sans-serif" font-size="12" fill="#26a69a" text-anchor="start" font-weight="normal" textLength="96.8" lengthAdjust="spacingAndGlyphs" stroke="#26a69a" stroke-width="0.22">+167.59 (+31.28%)</text>
<text x="18.2" y="62.6" font-family="Liberation Sans, sans-serif" font-size="12" fill="#131722" text-anchor="start" font-weight="normal" textLength="81.7" lengthAdjust="spacingAndGlyphs" stroke="#131722" stroke-width="0.22">EMA (20, close)</text>
<text x="107.8" y="62.6" font-family="Liberation Sans, sans-serif" font-size="12" fill="#2962ff" text-anchor="start" font-weight="normal" textLength="35.6" lengthAdjust="spacingAndGlyphs" stroke="#2962ff" stroke-width="0.22">394.33</text>
<text x="18.2" y="79.6" font-family="Liberation Sans, sans-serif" font-size="12" fill="#131722" text-anchor="start" font-weight="normal" textLength="81.0" lengthAdjust="spacingAndGlyphs" stroke="#131722" stroke-width="0.22">SMA (50, close)</text>
<text x="107.3" y="79.6" font-family="Liberation Sans, sans-serif" font-size="12" fill="#f23645" text-anchor="start" font-weight="normal" textLength="35.6" lengthAdjust="spacingAndGlyphs" stroke="#f23645" stroke-width="0.22">230.29</text>
<text x="18.2" y="578.7" font-family="Liberation Sans, sans-serif" font-size="12" fill="#131722" text-anchor="start" font-weight="normal" textLength="75.8" lengthAdjust="spacingAndGlyphs" stroke="#131722" stroke-width="0.22">RSI (14, close)</text>
<text x="102.3" y="578.7" font-family="Liberation Sans, sans-serif" font-size="12" fill="#7e57c2" text-anchor="start" font-weight="normal" textLength="29.3" lengthAdjust="spacingAndGlyphs" stroke="#7e57c2" stroke-width="0.22">90.50</text>
<text x="138.7" y="578.7" font-family="Liberation Sans, sans-serif" font-size="12" fill="#fdd835" text-anchor="start" font-weight="normal" textLength="29.3" lengthAdjust="spacingAndGlyphs" stroke="#fdd835" stroke-width="0.22">76.44</text>
<rect x="10" y="27" width="1332" height="739" fill="none" stroke="#000000" stroke-opacity="0.05" stroke-width="2"/>
<g transform="translate(12.1,784.6) scale(0.845)" fill="#131722"><path d="M14 22H7V11H0V4h14v18zM28 22h-8l7.5-18h8L28 22z"/><circle cx="20" cy="8" r="4"/></g>
<text x="49" y="803" font-family="Liberation Sans, sans-serif" font-size="20.5" fill="#131722" text-anchor="start" font-weight="bold" textLength="120.2" lengthAdjust="spacingAndGlyphs">TradingView</text>
</svg>
</body></html>
